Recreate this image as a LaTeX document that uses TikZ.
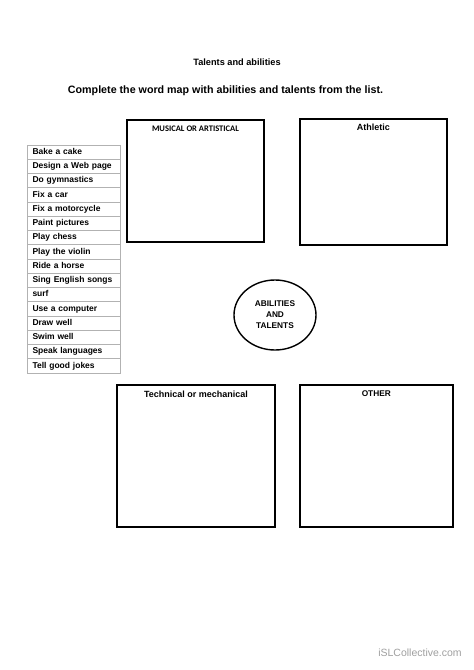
\documentclass[tikz,border=0pt]{standalone}
\usepackage{fontspec}
\setmainfont{Liberation Sans}
\newfontfamily\calfont{Carlito}
\usetikzlibrary{positioning,shapes.geometric}

\begin{document}
\begin{tikzpicture}[x=1pt, y=-1pt,
   box/.style={draw, line width=1.6pt},
   cell/.style={draw=gray!60, line width=0.6pt, minimum height=14.25pt, inner xsep=5pt,
                inner ysep=0pt, text height=6.3pt, text depth=1.8pt, text width=83pt,
                align=left, font=\fontsize{8.5}{10}\selectfont\bfseries},
   head/.style={inner sep=0pt, font=\fontsize{9}{11}\selectfont\bfseries}]
   \useasboundingbox (0,0) rectangle (474,670);
   \node (title) [font=\fontsize{9.2}{11}\selectfont\bfseries] at (237,62) {Talents and abilities};
   \node (task) [font=\fontsize{10.7}{13}\selectfont\bfseries] at (225.5,91)
      {Complete the word map with abilities and talents from the list.};
 \begin{scope}[every node/.style={cell}]
   \foreach \t [count=\i] in {Bake a cake, Design a Web page, Do gymnastics, Fix a car,
      Fix a motorcycle, Paint pictures, Play chess, Play the violin, Ride a horse,
      Sing English songs, surf, Use a computer, Draw well, Swim well, Speak languages,
      Tell good jokes}
      \node (item\i) at (74,{152.1+14.25*(\i-1)}) {\t};
 \end{scope}
   \node (mus) [box, minimum width=137pt, minimum height=122pt] at (195.5,181) {};
   \node (ath) [box, minimum width=147pt, minimum height=126pt] at (373.3,182) {};
   \node (tech) [box, minimum width=158pt, minimum height=142pt] at (196,456) {};
   \node (oth) [box, minimum width=153pt, minimum height=142pt] at (376.3,456) {};
   \node [head, font=\fontsize{8.5}{10}\calfont\bfseries, below=6.5pt of mus.north] {MUSICAL OR ARTISTICAL};
   \node [head, below=6pt of ath.north] {Athletic};
   \node [head, below=7pt of tech.north] {Technical or mechanical};
   \node [head, font=\fontsize{8.3}{10}\selectfont\bfseries, below=6pt of oth.north] {OTHER};
   \node (core) [ellipse, draw, line width=1.4pt, minimum width=82pt, minimum height=70pt,
      align=center, font=\fontsize{8.3}{11}\selectfont\bfseries] at (275,315) {ABILITIES\\AND\\TALENTS};
   \node (isl) [text=gray!75, font=\fontsize{10.5}{12}\selectfont] at (420,653) {iSLCollective.com};
\end{tikzpicture}
\end{document}
